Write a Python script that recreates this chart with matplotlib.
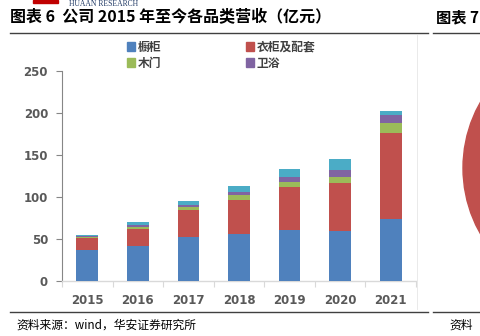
import matplotlib
matplotlib.use("Agg")
import matplotlib.pyplot as plt
from matplotlib.patches import Rectangle, Circle
from matplotlib.lines import Line2D
import numpy as np

plt.rcParams['font.family'] = ['Noto Sans CJK SC', 'DejaVu Sans']

years = ['2015', '2016', '2017', '2018', '2019', '2020', '2021']
cabinet = [37, 42, 52, 56, 61, 59, 74]          # 橱柜
wardrobe = [14, 20, 33, 41, 51.5, 58, 102]      # 衣柜及配套
wood_door = [1.5, 2, 3, 5, 5.5, 7, 12]          # 木门
bathroom = [1.2, 2.4, 3, 4, 6.3, 8, 10]         # 卫浴
other = [1.5, 3.5, 4.7, 7, 9.5, 12.7, 4]        # 其他

series_names = ['橱柜', '衣柜及配套', '木门', '卫浴']
colors = ['#4F81BD', '#C0504D', '#9BBB59', '#8064A2', '#4BACC6']
yticks = [0, 50, 100, 150, 200, 250]

W, H = 480, 336
fig = plt.figure(figsize=(W / 100, H / 100), dpi=100)

def fx(px):
    return px / W

def fy(py):
    return 1 - py / H

ax = fig.add_axes([fx(62), fy(281), fx(416) - fx(62), fy(71) - fy(281)])

x = np.arange(len(years))
bottom = np.zeros(len(years))
for vals, c in zip([cabinet, wardrobe, wood_door, bathroom, other], colors):
    ax.bar(x, vals, bottom=bottom, width=0.43, color=c, linewidth=0, zorder=3)
    bottom += np.array(vals)

ax.set_xlim(-0.5, len(years) - 0.5)
ax.set_ylim(0, 250)
ax.set_yticks(yticks)
ax.set_yticklabels([str(v) for v in yticks], fontsize=8.5, fontweight='bold',
                   color='#595959', family=['DejaVu Sans'])
ax.set_xticks(x)
ax.set_xticklabels(years, fontsize=8.5, fontweight='bold', color='#595959',
                   family=['DejaVu Sans'])
ax.set_xticks(np.arange(-0.5, len(years), 1), minor=True)
ax.tick_params(axis='x', which='major', length=0, pad=9)
ax.tick_params(axis='x', which='minor', length=4, color='#D9D9D9', width=0.8)
ax.tick_params(axis='y', length=4, color='#868686', width=0.8, pad=6)
for s in ['top', 'right']:
    ax.spines[s].set_visible(False)
ax.spines['left'].set_color('#868686')
ax.spines['left'].set_linewidth(0.8)
ax.spines['bottom'].set_color('#D9D9D9')
ax.spines['bottom'].set_linewidth(1.0)

# legend: two columns, filled row by row
handles = [Rectangle((0, 0), 1, 1, color=c) for c in colors[:4]]
order = [0, 2, 1, 3]
leg = fig.legend([handles[i] for i in order], [series_names[i] for i in order],
                 loc='upper left', bbox_to_anchor=(fx(122), fy(36)), ncol=2,
                 frameon=False, fontsize=8.5, handlelength=0.7, handleheight=0.7,
                 handletextpad=0.2, columnspacing=7.2, labelspacing=0.25,
                 borderaxespad=0)
for t in leg.get_texts():
    t.set_color('#404040')
    t.set_fontweight('bold')

# page header
fig.patches.append(Rectangle((fx(33), fy(3)), fx(25), fy(0) - fy(3),
                             transform=fig.transFigure, color='#C00000'))
fig.text(fx(69), fy(6.5), 'HUAAN RESEARCH', fontsize=5.5, color='#1F3864',
         family=['Liberation Serif'], va='baseline')
fig.text(fx(10), fy(17), '图表 6  公司 2015 年至今各品类营收（亿元）', fontsize=11.5,
         fontweight='bold', color='#000000', va='center')
fig.text(fx(436), fy(17), '图表 7', fontsize=11, fontweight='bold',
         color='#000000', va='center')

# rules above and below the chart
for x0, x1 in [(10, 428), (433, 480)]:
    fig.add_artist(Line2D([fx(x0), fx(x1)], [fy(33), fy(33)], color='#404040',
                          linewidth=1.0, transform=fig.transFigure))
    fig.add_artist(Line2D([fx(x0), fx(x1)], [fy(312), fy(312)], color='#404040',
                          linewidth=1.0, transform=fig.transFigure))

# neighbouring chart frame and pie edge
fig.add_artist(Line2D([fx(417), fx(417)], [fy(35), fy(309)], color='#E6E6E6',
                      linewidth=0.6, transform=fig.transFigure))
fig.patches.append(Circle((5.96, (H - 168) / 100), 1.33,
                          transform=fig.dpi_scale_trans, color='#C0504D'))

fig.text(fx(16), fy(325), '资料来源：wind，华安证券研究所', fontsize=8.5,
         color='#000000', va='center')
fig.text(fx(449), fy(325), '资料', fontsize=8.5, color='#000000',
         va='center')

fig.savefig('out.png', dpi=100)
